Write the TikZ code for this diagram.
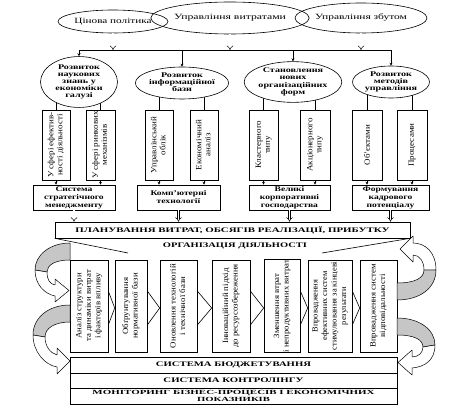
\documentclass[tikz,border=0pt]{standalone}
\usepackage{fontspec}
\setmainfont{Liberation Serif}
\usetikzlibrary{shapes.geometric,arrows.meta}
\newcommand\ml[1]{\begin{tabular}{@{}c@{}}#1\end{tabular}}
\newcommand\sx[2]{\scalebox{#1}[1]{#2}}
\begin{document}
\begin{tikzpicture}[x=1pt,y=-1pt,line width=0.6pt,
  ell/.style={draw,ellipse,inner sep=0pt,fill=white},
  topt/.style={font=\fontsize{8}{9}\selectfont},
  elt/.style={font=\bfseries\fontsize{7.2}{7.2}\selectfont},
  vbox/.style={draw,rectangle,inner sep=0pt,fill=white,font=\fontsize{8}{9}\selectfont},
  pbox/.style={draw,rectangle,inner sep=0pt,fill=white,font=\fontsize{8}{9.5}\selectfont},
  mbox/.style={draw,rectangle,inner sep=0pt,fill=white,font=\bfseries\fontsize{7.2}{8}\selectfont},
  capt/.style={font=\bfseries\fontsize{7}{8}\selectfont},
  smallcapt/.style={font=\bfseries\fontsize{6.3}{7.2}\selectfont},
  hol/.style={double,double distance=1.8pt,line width=0.5pt,-{Implies}},
  sarr/.style={-{Stealth[length=3pt,width=3pt]}},
  rib/.style={draw,line width=0.5pt,fill=gray!45,line join=round},
  ribw/.style={draw,line width=0.5pt,fill=white,line join=round}]
\useasboundingbox (0,0) rectangle (472,414);

% top ellipses
\node[ell,fill=none,minimum width=110pt,minimum height=23pt,topt] (t1) at (113,21.5) {\resizebox{77pt}{\height}{Цінова політика}};
\node[ell,fill=none,minimum width=156pt,minimum height=32pt,topt] (t2) at (230,18) {\resizebox{112pt}{\height}{Управління витратами}};
\node[ell,fill=none,minimum width=132pt,minimum height=30pt,topt] (t3) at (361,18) {\resizebox{92pt}{\height}{Управління збутом}};

\coordinate (hl) at (0,50);

% row 1 vertical boxes
\node[vbox,minimum width=28pt,minimum height=70pt] (b1) at (56,145) {\rotatebox{90}{\sx{1.12}{\ml{У сфері ефектив-\\ності діяльності}}}};
\node[vbox,minimum width=29pt,minimum height=70pt] (b2) at (100.5,145) {\rotatebox{90}{\sx{1.12}{\ml{У сфері ринкових\\механізмів}}}};
\node[vbox,minimum width=28pt,minimum height=70pt] (b3) at (159,145) {\rotatebox{90}{\sx{1.12}{\ml{Управлінський\\облік}}}};
\node[vbox,minimum width=28pt,minimum height=70pt] (b4) at (204,145) {\rotatebox{90}{\sx{1.12}{\ml{Економічний\\аналіз}}}};
\node[vbox,minimum width=29pt,minimum height=70pt] (b5) at (263.5,145) {\rotatebox{90}{\sx{1.12}{\ml{Кластерного\\типу}}}};
\node[vbox,minimum width=30pt,minimum height=70pt] (b6) at (315,145) {\rotatebox{90}{\sx{1.12}{\ml{Акціонерного\\типу}}}};
\node[vbox,minimum width=30pt,minimum height=70pt] (b7) at (367,145) {\rotatebox{90}{\sx{1.12}{Об’єктами}}};
\node[vbox,minimum width=30pt,minimum height=70pt] (b8) at (412,145) {\rotatebox{90}{\sx{1.12}{Процесами}}};

\coordinate (e1c) at (79,82);
\coordinate (e2c) at (182,83);
\coordinate (e3c) at (293,82);
\coordinate (e4c) at (391,82);
\foreach \b/\e in {b1/e1c,b2/e1c,b3/e2c,b4/e2c,b5/e3c,b6/e3c,b7/e4c,b8/e4c}
  \draw (\b.north) -- (\b.north |- \e);

% level-2 ellipses
\node[ell,minimum width=77pt,minimum height=42pt,elt] (e1) at (e1c) {\sx{1.4}{\ml{Розвиток\\наукових\\знань у\\економіки\\галузі}}};
\node[ell,minimum width=75pt,minimum height=32pt,elt] (e2) at (e2c) {\sx{1.4}{\ml{Розвиток\\інформаційної\\бази}}};
\node[ell,minimum width=92pt,minimum height=40pt,elt] (e3) at (e3c) {\sx{1.4}{\ml{Становлення\\нових\\організаційних\\форм}}};
\node[ell,minimum width=77pt,minimum height=32pt,elt] (e4) at (e4c) {\sx{1.4}{\ml{Розвиток\\методів\\управління}}};

% top hollow arrows and distribution line
\foreach \t in {t1,t2,t3} \draw[hol] (\t.south) -- (\t.south |- hl);
\draw (e1.north |- hl) -- (e4.north |- hl);
\foreach \e in {e1,e2,e3,e4} \draw[sarr] (\e.north |- hl) -- (\e.north);

% management boxes
\node[mbox,minimum width=82pt,minimum height=25pt] (m1) at (74,197.5) {\sx{1.33}{\ml{Система\\стратегічного\\менеджменту}}};
\node[mbox,minimum width=83pt,minimum height=25pt] (m2) at (178.5,197.5) {\sx{1.33}{\ml{Комп’ютерні\\технології}}};
\node[mbox,minimum width=81pt,minimum height=25pt] (m3) at (289.5,197.5) {\sx{1.33}{\ml{Великі\\корпоративні\\господарства}}};
\node[mbox,minimum width=77pt,minimum height=25pt] (m4) at (390.5,197.5) {\sx{1.33}{\ml{Формування\\кадрового\\потенціалу}}};
\foreach \b/\m in {b1/m1,b2/m1,b3/m2,b4/m2,b5/m3,b6/m3,b7/m4,b8/m4}
  \draw[sarr] (\b.south) -- (\b.south |- \m.north);

% planning
\node[draw,rectangle,inner sep=0pt,minimum width=355pt,minimum height=16pt,capt] (P) at (232.5,230) {\resizebox{314pt}{\height}{ПЛАНУВАННЯ ВИТРАТ, ОБСЯГІВ РЕАЛІЗАЦІЇ, ПРИБУТКУ}};
\foreach \m in {m1,m2,m3,m4} \draw[hol] (\m.south) -- (\m.south |- P.north);
\coordinate (trL) at (128,253);
\coordinate (trR) at (322,253);
\draw (P.south west) -- (trL);
\draw (P.south east) -- (trR);
\node[capt,inner sep=0pt] (org) at (235,246) {\resizebox{144pt}{\height}{ОРГАНІЗАЦІЯ ДІЯЛЬНОСТІ}};

% process boxes
\node[pbox,minimum width=38pt,minimum height=92pt] (pa) at (89,306) {\rotatebox{90}{\sx{1.1}{\ml{Аналіз структури\\та динаміки витрат\\і факторів впливу}}}};
\node[pbox,minimum width=32pt,minimum height=92pt] (pb) at (131,306) {\rotatebox{90}{\sx{1.1}{\ml{Обґрунтування\\нормативної бази}}}};
\node[pbox,minimum width=37pt,minimum height=92pt] (pc) at (178.5,306) {\rotatebox{90}{\sx{1.1}{\ml{Оновлення технологій\\і технічної бази}}}};
\node[pbox,minimum width=38pt,minimum height=92pt] (pd) at (231,306) {\rotatebox{90}{\sx{1.1}{\ml{Інноваційний підхід\\до ресурсозбереження}}}};
\node[pbox,minimum width=36pt,minimum height=92pt] (pe) at (282,306) {\rotatebox{90}{\sx{1.1}{\ml{Зменшення втрат\\і непродуктивних витрат}}}};
\node[pbox,minimum width=44pt,minimum height=92pt] (pf) at (330,306) {\rotatebox{90}{\sx{1.05}{\ml{Впровадження\\ефективних систем\\стимулювання за кінцеві\\результати}}}};
\node[pbox,minimum width=37pt,minimum height=92pt] (pg) at (378.5,306) {\rotatebox{90}{\sx{1.1}{\ml{Впровадження систем\\відповідальності}}}};
\foreach \l/\r in {pa/pb,pb/pc,pc/pd,pd/pe,pe/pf,pf/pg}
  \draw ([yshift=-19pt]\l.east) -- ([yshift=-2pt]\r.west) -- ([yshift=15pt]\l.east);

% bottom boxes
\node[draw,rectangle,inner sep=0pt,minimum width=327pt,minimum height=16pt,capt] (s1) at (233.5,365) {\resizebox{155pt}{\height}{СИСТЕМА БЮДЖЕТУВАННЯ}};
\node[draw,rectangle,inner sep=0pt,minimum width=327pt,minimum height=15pt,capt] (s2) at (233.5,380.5) {\resizebox{140pt}{\height}{СИСТЕМА КОНТРОЛІНГУ}};
\node[draw,rectangle,inner sep=0pt,minimum width=327pt,minimum height=16pt,smallcapt] (s3) at (233.5,396.5) {\ml{\resizebox{282pt}{\height}{МОНІТОРИНГ БІЗНЕС-ПРОЦЕСІВ І ЕКОНОМІЧНИХ}\\\resizebox{73pt}{\height}{ПОКАЗНИКІВ}}};

% curved ribbon arrows
\path[rib] (70,243) .. controls (50,243) and (35,255) .. (35,270) -- (47,272) .. controls (47,265) and (55,260) .. (70,260) -- cycle;
\path[ribw] (35,270) .. controls (35,285) and (45,294) .. (55,296) -- (55,302) -- (69,290.5) -- (55,279) -- (55,285) .. controls (50,284) and (47,280) .. (47,272) -- cycle;
\path[rib] (70,305) .. controls (48,305) and (33,318) .. (33,335) -- (45,337) .. controls (45,328) and (55,322) .. (70,322) -- cycle;
\path[ribw] (33,335) .. controls (33,352) and (45,365) .. (57,367) -- (57,374) -- (70,361) -- (57,348) -- (57,355) .. controls (50,353) and (45,346) .. (45,337) -- cycle;
\path[rib] (397,300) .. controls (420,300) and (436,288) .. (436,270) -- (424,270) .. controls (424,278) and (415,283) .. (397,283) -- cycle;
\path[ribw] (436,270) .. controls (436,252) and (425,243) .. (413,243) -- (413,236) -- (400,249) -- (413,262) -- (413,255) .. controls (420,255) and (424,262) .. (424,270) -- cycle;
\path[rib] (397,318) .. controls (420,318) and (435,330) .. (435,345) -- (423,347) .. controls (423,340) and (415,335) .. (397,335) -- cycle;
\path[ribw] (435,345) .. controls (435,360) and (425,367) .. (412,368) -- (412,375) -- (398,362.5) -- (412,350) -- (412,357) .. controls (418,357) and (423,353) .. (423,347) -- cycle;
\end{tikzpicture}
\end{document}
